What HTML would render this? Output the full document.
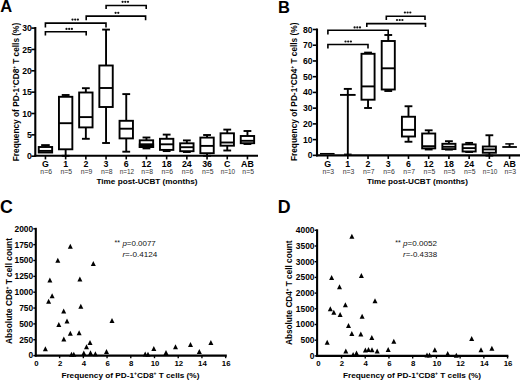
<!DOCTYPE html>
<html><head><meta charset="utf-8"><style>
html,body{margin:0;padding:0;background:#fff;}
body{width:520px;height:380px;overflow:hidden;}
svg{display:block;font-family:"Liberation Sans", sans-serif;}
</style></head><body>
<svg width="520" height="380" viewBox="0 0 520 380">
<rect width="520" height="380" fill="#fff"/>
<line x1="45.45" y1="145.10" x2="45.45" y2="147.00" stroke="#000" stroke-width="1.9"/>
<line x1="41.15" y1="145.10" x2="49.75" y2="145.10" stroke="#000" stroke-width="1.9"/>
<rect x="38.75" y="147.00" width="13.40" height="5.50" fill="#fff" stroke="#000" stroke-width="1.9"/>
<line x1="38.75" y1="150.90" x2="52.15" y2="150.90" stroke="#000" stroke-width="1.9"/>
<line x1="65.65" y1="95.00" x2="65.65" y2="96.80" stroke="#000" stroke-width="1.9"/>
<line x1="61.75" y1="95.00" x2="69.55" y2="95.00" stroke="#000" stroke-width="1.9"/>
<line x1="65.65" y1="149.30" x2="65.65" y2="155.80" stroke="#000" stroke-width="1.9"/>
<line x1="61.75" y1="155.80" x2="69.55" y2="155.80" stroke="#000" stroke-width="1.9"/>
<rect x="58.95" y="96.80" width="13.40" height="52.50" fill="#fff" stroke="#000" stroke-width="1.9"/>
<line x1="58.95" y1="123.20" x2="72.35" y2="123.20" stroke="#000" stroke-width="1.9"/>
<line x1="85.85" y1="88.20" x2="85.85" y2="92.50" stroke="#000" stroke-width="1.9"/>
<line x1="81.95" y1="88.20" x2="89.75" y2="88.20" stroke="#000" stroke-width="1.9"/>
<line x1="85.85" y1="127.40" x2="85.85" y2="138.80" stroke="#000" stroke-width="1.9"/>
<line x1="81.95" y1="138.80" x2="89.75" y2="138.80" stroke="#000" stroke-width="1.9"/>
<rect x="79.15" y="92.50" width="13.40" height="34.90" fill="#fff" stroke="#000" stroke-width="1.9"/>
<line x1="79.15" y1="117.10" x2="92.55" y2="117.10" stroke="#000" stroke-width="1.9"/>
<line x1="106.05" y1="29.60" x2="106.05" y2="65.50" stroke="#000" stroke-width="1.9"/>
<line x1="102.15" y1="29.60" x2="109.95" y2="29.60" stroke="#000" stroke-width="1.9"/>
<line x1="106.05" y1="107.00" x2="106.05" y2="143.00" stroke="#000" stroke-width="1.9"/>
<line x1="102.15" y1="143.00" x2="109.95" y2="143.00" stroke="#000" stroke-width="1.9"/>
<rect x="99.35" y="65.50" width="13.40" height="41.50" fill="#fff" stroke="#000" stroke-width="1.9"/>
<line x1="99.35" y1="88.00" x2="112.75" y2="88.00" stroke="#000" stroke-width="1.9"/>
<line x1="126.25" y1="94.10" x2="126.25" y2="120.80" stroke="#000" stroke-width="1.9"/>
<line x1="122.35" y1="94.10" x2="130.15" y2="94.10" stroke="#000" stroke-width="1.9"/>
<line x1="126.25" y1="138.40" x2="126.25" y2="151.70" stroke="#000" stroke-width="1.9"/>
<line x1="122.35" y1="151.70" x2="130.15" y2="151.70" stroke="#000" stroke-width="1.9"/>
<rect x="119.55" y="120.80" width="13.40" height="17.60" fill="#fff" stroke="#000" stroke-width="1.9"/>
<line x1="119.55" y1="128.70" x2="132.95" y2="128.70" stroke="#000" stroke-width="1.9"/>
<line x1="146.45" y1="137.50" x2="146.45" y2="140.30" stroke="#000" stroke-width="1.9"/>
<line x1="142.55" y1="137.50" x2="150.35" y2="137.50" stroke="#000" stroke-width="1.9"/>
<line x1="146.45" y1="147.00" x2="146.45" y2="148.40" stroke="#000" stroke-width="1.9"/>
<line x1="142.55" y1="148.40" x2="150.35" y2="148.40" stroke="#000" stroke-width="1.9"/>
<rect x="139.75" y="140.30" width="13.40" height="6.70" fill="#fff" stroke="#000" stroke-width="1.9"/>
<line x1="139.75" y1="144.60" x2="153.15" y2="144.60" stroke="#000" stroke-width="1.9"/>
<rect x="138.80" y="143.5" width="15.30" height="4.4" fill="#000"/>
<line x1="166.65" y1="134.60" x2="166.65" y2="138.80" stroke="#000" stroke-width="1.9"/>
<line x1="162.75" y1="134.60" x2="170.55" y2="134.60" stroke="#000" stroke-width="1.9"/>
<line x1="166.65" y1="149.90" x2="166.65" y2="151.10" stroke="#000" stroke-width="1.9"/>
<line x1="162.75" y1="151.10" x2="170.55" y2="151.10" stroke="#000" stroke-width="1.9"/>
<rect x="159.95" y="138.80" width="13.40" height="11.10" fill="#fff" stroke="#000" stroke-width="1.9"/>
<line x1="159.95" y1="144.30" x2="173.35" y2="144.30" stroke="#000" stroke-width="1.9"/>
<line x1="186.85" y1="140.40" x2="186.85" y2="143.30" stroke="#000" stroke-width="1.9"/>
<line x1="182.95" y1="140.40" x2="190.75" y2="140.40" stroke="#000" stroke-width="1.9"/>
<line x1="186.85" y1="151.20" x2="186.85" y2="152.00" stroke="#000" stroke-width="1.9"/>
<line x1="182.95" y1="152.00" x2="190.75" y2="152.00" stroke="#000" stroke-width="1.9"/>
<rect x="180.15" y="143.30" width="13.40" height="7.90" fill="#fff" stroke="#000" stroke-width="1.9"/>
<line x1="180.15" y1="147.20" x2="193.55" y2="147.20" stroke="#000" stroke-width="1.9"/>
<line x1="207.05" y1="135.00" x2="207.05" y2="137.60" stroke="#000" stroke-width="1.9"/>
<line x1="203.15" y1="135.00" x2="210.95" y2="135.00" stroke="#000" stroke-width="1.9"/>
<line x1="207.05" y1="153.20" x2="207.05" y2="155.80" stroke="#000" stroke-width="1.9"/>
<line x1="203.15" y1="155.80" x2="210.95" y2="155.80" stroke="#000" stroke-width="1.9"/>
<rect x="200.35" y="137.60" width="13.40" height="15.60" fill="#fff" stroke="#000" stroke-width="1.9"/>
<line x1="200.35" y1="145.90" x2="213.75" y2="145.90" stroke="#000" stroke-width="1.9"/>
<line x1="227.25" y1="129.60" x2="227.25" y2="133.30" stroke="#000" stroke-width="1.9"/>
<line x1="223.35" y1="129.60" x2="231.15" y2="129.60" stroke="#000" stroke-width="1.9"/>
<line x1="227.25" y1="145.70" x2="227.25" y2="150.50" stroke="#000" stroke-width="1.9"/>
<line x1="223.35" y1="150.50" x2="231.15" y2="150.50" stroke="#000" stroke-width="1.9"/>
<rect x="220.55" y="133.30" width="13.40" height="12.40" fill="#fff" stroke="#000" stroke-width="1.9"/>
<line x1="220.55" y1="142.50" x2="233.95" y2="142.50" stroke="#000" stroke-width="1.9"/>
<line x1="247.45" y1="131.00" x2="247.45" y2="136.00" stroke="#000" stroke-width="1.9"/>
<line x1="243.55" y1="131.00" x2="251.35" y2="131.00" stroke="#000" stroke-width="1.9"/>
<line x1="247.45" y1="143.20" x2="247.45" y2="144.00" stroke="#000" stroke-width="1.9"/>
<line x1="243.55" y1="144.00" x2="251.35" y2="144.00" stroke="#000" stroke-width="1.9"/>
<rect x="240.75" y="136.00" width="13.40" height="7.20" fill="#fff" stroke="#000" stroke-width="1.9"/>
<line x1="240.75" y1="140.80" x2="254.15" y2="140.80" stroke="#000" stroke-width="1.9"/>
<line x1="35.30" y1="27.00" x2="35.30" y2="156.80" stroke="#000" stroke-width="2.1"/>
<line x1="34.30" y1="155.80" x2="258.00" y2="155.80" stroke="#000" stroke-width="2.1"/>
<line x1="31.30" y1="156.20" x2="35.30" y2="156.20" stroke="#000" stroke-width="1.6"/>
<text x="31.70" y="159.25" font-size="8.6" font-weight="bold" text-anchor="end" fill="#000" >0</text>
<line x1="31.30" y1="134.85" x2="35.30" y2="134.85" stroke="#000" stroke-width="1.6"/>
<text x="31.70" y="137.90" font-size="8.6" font-weight="bold" text-anchor="end" fill="#000" >5</text>
<line x1="31.30" y1="113.50" x2="35.30" y2="113.50" stroke="#000" stroke-width="1.6"/>
<text x="31.70" y="116.55" font-size="8.6" font-weight="bold" text-anchor="end" fill="#000" >10</text>
<line x1="31.30" y1="92.15" x2="35.30" y2="92.15" stroke="#000" stroke-width="1.6"/>
<text x="31.70" y="95.20" font-size="8.6" font-weight="bold" text-anchor="end" fill="#000" >15</text>
<line x1="31.30" y1="70.80" x2="35.30" y2="70.80" stroke="#000" stroke-width="1.6"/>
<text x="31.70" y="73.85" font-size="8.6" font-weight="bold" text-anchor="end" fill="#000" >20</text>
<line x1="31.30" y1="49.45" x2="35.30" y2="49.45" stroke="#000" stroke-width="1.6"/>
<text x="31.70" y="52.50" font-size="8.6" font-weight="bold" text-anchor="end" fill="#000" >25</text>
<line x1="31.30" y1="28.10" x2="35.30" y2="28.10" stroke="#000" stroke-width="1.6"/>
<text x="31.70" y="31.15" font-size="8.6" font-weight="bold" text-anchor="end" fill="#000" >30</text>
<line x1="45.45" y1="155.80" x2="45.45" y2="159.40" stroke="#000" stroke-width="1.6"/>
<text x="45.45" y="166.60" font-size="8.8" font-weight="bold" text-anchor="middle" fill="#000" >G</text>
<text x="46.15" y="174.30" font-size="6.6" font-weight="normal" text-anchor="middle" fill="#333" textLength="11.6" lengthAdjust="spacingAndGlyphs" >n=6</text>
<line x1="65.65" y1="155.80" x2="65.65" y2="159.40" stroke="#000" stroke-width="1.6"/>
<text x="65.65" y="166.60" font-size="8.8" font-weight="bold" text-anchor="middle" fill="#000" >1</text>
<text x="66.35" y="174.30" font-size="6.6" font-weight="normal" text-anchor="middle" fill="#333" textLength="11.6" lengthAdjust="spacingAndGlyphs" >n=5</text>
<line x1="85.85" y1="155.80" x2="85.85" y2="159.40" stroke="#000" stroke-width="1.6"/>
<text x="85.85" y="166.60" font-size="8.8" font-weight="bold" text-anchor="middle" fill="#000" >2</text>
<text x="86.55" y="174.30" font-size="6.6" font-weight="normal" text-anchor="middle" fill="#333" textLength="11.6" lengthAdjust="spacingAndGlyphs" >n=9</text>
<line x1="106.05" y1="155.80" x2="106.05" y2="159.40" stroke="#000" stroke-width="1.6"/>
<text x="106.05" y="166.60" font-size="8.8" font-weight="bold" text-anchor="middle" fill="#000" >3</text>
<text x="106.75" y="174.30" font-size="6.6" font-weight="normal" text-anchor="middle" fill="#333" textLength="11.6" lengthAdjust="spacingAndGlyphs" >n=8</text>
<line x1="126.25" y1="155.80" x2="126.25" y2="159.40" stroke="#000" stroke-width="1.6"/>
<text x="126.25" y="166.60" font-size="8.8" font-weight="bold" text-anchor="middle" fill="#000" >6</text>
<text x="126.95" y="174.30" font-size="6.6" font-weight="normal" text-anchor="middle" fill="#333" textLength="14.5" lengthAdjust="spacingAndGlyphs" >n=12</text>
<line x1="146.45" y1="155.80" x2="146.45" y2="159.40" stroke="#000" stroke-width="1.6"/>
<text x="146.45" y="166.60" font-size="8.8" font-weight="bold" text-anchor="middle" fill="#000" >12</text>
<text x="147.15" y="174.30" font-size="6.6" font-weight="normal" text-anchor="middle" fill="#333" textLength="11.6" lengthAdjust="spacingAndGlyphs" >n=8</text>
<line x1="166.65" y1="155.80" x2="166.65" y2="159.40" stroke="#000" stroke-width="1.6"/>
<text x="166.65" y="166.60" font-size="8.8" font-weight="bold" text-anchor="middle" fill="#000" >18</text>
<text x="167.35" y="174.30" font-size="6.6" font-weight="normal" text-anchor="middle" fill="#333" textLength="11.6" lengthAdjust="spacingAndGlyphs" >n=6</text>
<line x1="186.85" y1="155.80" x2="186.85" y2="159.40" stroke="#000" stroke-width="1.6"/>
<text x="186.85" y="166.60" font-size="8.8" font-weight="bold" text-anchor="middle" fill="#000" >24</text>
<text x="187.55" y="174.30" font-size="6.6" font-weight="normal" text-anchor="middle" fill="#333" textLength="11.6" lengthAdjust="spacingAndGlyphs" >n=6</text>
<line x1="207.05" y1="155.80" x2="207.05" y2="159.40" stroke="#000" stroke-width="1.6"/>
<text x="207.05" y="166.60" font-size="8.8" font-weight="bold" text-anchor="middle" fill="#000" >36</text>
<text x="207.75" y="174.30" font-size="6.6" font-weight="normal" text-anchor="middle" fill="#333" textLength="11.6" lengthAdjust="spacingAndGlyphs" >n=5</text>
<line x1="227.25" y1="155.80" x2="227.25" y2="159.40" stroke="#000" stroke-width="1.6"/>
<text x="227.25" y="166.60" font-size="8.8" font-weight="bold" text-anchor="middle" fill="#000" >C</text>
<text x="227.95" y="174.30" font-size="6.6" font-weight="normal" text-anchor="middle" fill="#333" textLength="14.5" lengthAdjust="spacingAndGlyphs" >n=10</text>
<line x1="247.45" y1="155.80" x2="247.45" y2="159.40" stroke="#000" stroke-width="1.6"/>
<text x="247.45" y="166.60" font-size="8.8" font-weight="bold" text-anchor="middle" fill="#000" >AB</text>
<text x="248.15" y="174.30" font-size="6.6" font-weight="normal" text-anchor="middle" fill="#333" textLength="11.6" lengthAdjust="spacingAndGlyphs" >n=5</text>
<text x="147.00" y="184.30" font-size="7.6" font-weight="bold" text-anchor="middle" fill="#000" textLength="101" lengthAdjust="spacingAndGlyphs" >Time post-UCBT (months)</text>
<text transform="translate(18.80,92.00) rotate(-90)" font-size="8.5" font-weight="bold" text-anchor="middle" textLength="138.5" lengthAdjust="spacingAndGlyphs">Frequency of PD-1<tspan font-size="4.6" dy="-2.8">+</tspan><tspan dy="2.8">CD8</tspan><tspan font-size="4.6" dy="-2.8">+</tspan><tspan dy="2.8"> T cells (%)</tspan></text>
<path d="M106.10,9.10 V5.50 H146.20 V9.10" fill="none" stroke="#000" stroke-width="1.6"/>
<circle cx="122.60" cy="1.80" r="1.12" fill="#111"/>
<circle cx="125.30" cy="1.80" r="1.12" fill="#111"/>
<circle cx="128.00" cy="1.80" r="1.12" fill="#111"/>
<path d="M86.20,20.30 V16.10 H145.60 V20.30" fill="none" stroke="#000" stroke-width="1.6"/>
<circle cx="115.60" cy="12.80" r="1.12" fill="#111"/>
<circle cx="118.30" cy="12.80" r="1.12" fill="#111"/>
<path d="M45.40,27.40 V23.10 H106.00 V27.40" fill="none" stroke="#000" stroke-width="1.6"/>
<circle cx="72.50" cy="19.60" r="1.12" fill="#111"/>
<circle cx="75.20" cy="19.60" r="1.12" fill="#111"/>
<circle cx="77.90" cy="19.60" r="1.12" fill="#111"/>
<path d="M45.40,35.50 V31.80 H86.20 V35.50" fill="none" stroke="#000" stroke-width="1.6"/>
<circle cx="66.50" cy="28.90" r="1.12" fill="#111"/>
<circle cx="69.20" cy="28.90" r="1.12" fill="#111"/>
<circle cx="71.90" cy="28.90" r="1.12" fill="#111"/>
<text x="0.20" y="11.80" font-size="16.5" font-weight="bold" text-anchor="start" fill="#000" >A</text>
<line x1="320.00" y1="153.70" x2="334.60" y2="153.70" stroke="#000" stroke-width="1.5"/>
<line x1="347.82" y1="88.90" x2="347.82" y2="155.35" stroke="#000" stroke-width="1.9"/>
<line x1="343.82" y1="88.90" x2="351.82" y2="88.90" stroke="#000" stroke-width="1.9"/>
<line x1="340.02" y1="94.90" x2="355.62" y2="94.90" stroke="#000" stroke-width="1.9"/>
<line x1="344.02" y1="154.20" x2="351.62" y2="154.20" stroke="#000" stroke-width="1.2"/>
<line x1="368.04" y1="52.60" x2="368.04" y2="53.80" stroke="#000" stroke-width="1.9"/>
<line x1="364.14" y1="52.60" x2="371.94" y2="52.60" stroke="#000" stroke-width="1.9"/>
<line x1="368.04" y1="99.70" x2="368.04" y2="108.00" stroke="#000" stroke-width="1.9"/>
<line x1="364.14" y1="108.00" x2="371.94" y2="108.00" stroke="#000" stroke-width="1.9"/>
<rect x="361.49" y="53.80" width="13.10" height="45.90" fill="#fff" stroke="#000" stroke-width="1.9"/>
<line x1="361.49" y1="86.40" x2="374.59" y2="86.40" stroke="#000" stroke-width="1.9"/>
<line x1="388.26" y1="35.00" x2="388.26" y2="41.00" stroke="#000" stroke-width="1.9"/>
<line x1="384.36" y1="35.00" x2="392.16" y2="35.00" stroke="#000" stroke-width="1.9"/>
<line x1="388.26" y1="89.50" x2="388.26" y2="91.00" stroke="#000" stroke-width="1.9"/>
<line x1="384.36" y1="91.00" x2="392.16" y2="91.00" stroke="#000" stroke-width="1.9"/>
<rect x="381.71" y="41.00" width="13.10" height="48.50" fill="#fff" stroke="#000" stroke-width="1.9"/>
<line x1="381.71" y1="68.30" x2="394.81" y2="68.30" stroke="#000" stroke-width="1.9"/>
<line x1="408.48" y1="106.25" x2="408.48" y2="116.75" stroke="#000" stroke-width="1.9"/>
<line x1="404.58" y1="106.25" x2="412.38" y2="106.25" stroke="#000" stroke-width="1.9"/>
<line x1="408.48" y1="136.50" x2="408.48" y2="141.75" stroke="#000" stroke-width="1.9"/>
<line x1="404.58" y1="141.75" x2="412.38" y2="141.75" stroke="#000" stroke-width="1.9"/>
<rect x="401.93" y="116.75" width="13.10" height="19.75" fill="#fff" stroke="#000" stroke-width="1.9"/>
<line x1="401.93" y1="129.80" x2="415.03" y2="129.80" stroke="#000" stroke-width="1.9"/>
<line x1="428.70" y1="130.30" x2="428.70" y2="133.50" stroke="#000" stroke-width="1.9"/>
<line x1="424.80" y1="130.30" x2="432.60" y2="130.30" stroke="#000" stroke-width="1.9"/>
<line x1="428.70" y1="148.40" x2="428.70" y2="149.50" stroke="#000" stroke-width="1.9"/>
<line x1="424.80" y1="149.50" x2="432.60" y2="149.50" stroke="#000" stroke-width="1.9"/>
<rect x="422.15" y="133.50" width="13.10" height="14.90" fill="#fff" stroke="#000" stroke-width="1.9"/>
<line x1="422.15" y1="146.20" x2="435.25" y2="146.20" stroke="#000" stroke-width="1.9"/>
<line x1="448.92" y1="141.20" x2="448.92" y2="143.80" stroke="#000" stroke-width="1.9"/>
<line x1="445.02" y1="141.20" x2="452.82" y2="141.20" stroke="#000" stroke-width="1.9"/>
<line x1="448.92" y1="149.10" x2="448.92" y2="149.60" stroke="#000" stroke-width="1.9"/>
<line x1="445.02" y1="149.60" x2="452.82" y2="149.60" stroke="#000" stroke-width="1.9"/>
<rect x="442.37" y="143.80" width="13.10" height="5.30" fill="#fff" stroke="#000" stroke-width="1.9"/>
<line x1="442.37" y1="146.80" x2="455.47" y2="146.80" stroke="#000" stroke-width="1.9"/>
<line x1="469.14" y1="142.90" x2="469.14" y2="144.40" stroke="#000" stroke-width="1.9"/>
<line x1="465.24" y1="142.90" x2="473.04" y2="142.90" stroke="#000" stroke-width="1.9"/>
<line x1="469.14" y1="151.50" x2="469.14" y2="152.00" stroke="#000" stroke-width="1.9"/>
<line x1="465.24" y1="152.00" x2="473.04" y2="152.00" stroke="#000" stroke-width="1.9"/>
<rect x="462.59" y="144.40" width="13.10" height="7.10" fill="#fff" stroke="#000" stroke-width="1.9"/>
<line x1="462.59" y1="148.10" x2="475.69" y2="148.10" stroke="#000" stroke-width="1.9"/>
<line x1="489.36" y1="135.25" x2="489.36" y2="146.50" stroke="#000" stroke-width="1.9"/>
<line x1="485.46" y1="135.25" x2="493.26" y2="135.25" stroke="#000" stroke-width="1.9"/>
<line x1="489.36" y1="152.75" x2="489.36" y2="155.60" stroke="#000" stroke-width="1.9"/>
<line x1="485.46" y1="155.60" x2="493.26" y2="155.60" stroke="#000" stroke-width="1.9"/>
<rect x="482.81" y="146.50" width="13.10" height="6.25" fill="#fff" stroke="#000" stroke-width="1.9"/>
<line x1="482.81" y1="149.40" x2="495.91" y2="149.40" stroke="#000" stroke-width="1.9"/>
<line x1="509.58" y1="143.90" x2="509.58" y2="147.00" stroke="#000" stroke-width="1.9"/>
<line x1="505.28" y1="143.90" x2="513.88" y2="143.90" stroke="#000" stroke-width="1.5"/>
<line x1="502.28" y1="147.00" x2="516.88" y2="147.00" stroke="#000" stroke-width="1.8"/>
<line x1="317.00" y1="28.50" x2="317.00" y2="156.35" stroke="#000" stroke-width="2.1"/>
<line x1="316.00" y1="155.35" x2="520.00" y2="155.35" stroke="#000" stroke-width="2.1"/>
<line x1="312.80" y1="155.35" x2="317.00" y2="155.35" stroke="#000" stroke-width="1.6"/>
<text x="312.60" y="158.40" font-size="8.6" font-weight="bold" text-anchor="end" fill="#000" >0</text>
<line x1="312.80" y1="139.62" x2="317.00" y2="139.62" stroke="#000" stroke-width="1.6"/>
<text x="312.60" y="142.67" font-size="8.6" font-weight="bold" text-anchor="end" fill="#000" >10</text>
<line x1="312.80" y1="123.89" x2="317.00" y2="123.89" stroke="#000" stroke-width="1.6"/>
<text x="312.60" y="126.94" font-size="8.6" font-weight="bold" text-anchor="end" fill="#000" >20</text>
<line x1="312.80" y1="108.16" x2="317.00" y2="108.16" stroke="#000" stroke-width="1.6"/>
<text x="312.60" y="111.21" font-size="8.6" font-weight="bold" text-anchor="end" fill="#000" >30</text>
<line x1="312.80" y1="92.42" x2="317.00" y2="92.42" stroke="#000" stroke-width="1.6"/>
<text x="312.60" y="95.47" font-size="8.6" font-weight="bold" text-anchor="end" fill="#000" >40</text>
<line x1="312.80" y1="76.69" x2="317.00" y2="76.69" stroke="#000" stroke-width="1.6"/>
<text x="312.60" y="79.74" font-size="8.6" font-weight="bold" text-anchor="end" fill="#000" >50</text>
<line x1="312.80" y1="60.96" x2="317.00" y2="60.96" stroke="#000" stroke-width="1.6"/>
<text x="312.60" y="64.01" font-size="8.6" font-weight="bold" text-anchor="end" fill="#000" >60</text>
<line x1="312.80" y1="45.23" x2="317.00" y2="45.23" stroke="#000" stroke-width="1.6"/>
<text x="312.60" y="48.28" font-size="8.6" font-weight="bold" text-anchor="end" fill="#000" >70</text>
<line x1="312.80" y1="29.50" x2="317.00" y2="29.50" stroke="#000" stroke-width="1.6"/>
<text x="312.60" y="32.55" font-size="8.6" font-weight="bold" text-anchor="end" fill="#000" >80</text>
<line x1="327.60" y1="155.35" x2="327.60" y2="158.95" stroke="#000" stroke-width="1.6"/>
<text x="327.60" y="166.60" font-size="8.8" font-weight="bold" text-anchor="middle" fill="#000" >G</text>
<text x="328.30" y="174.30" font-size="6.6" font-weight="normal" text-anchor="middle" fill="#333" textLength="11.6" lengthAdjust="spacingAndGlyphs" >n=3</text>
<line x1="347.82" y1="155.35" x2="347.82" y2="158.95" stroke="#000" stroke-width="1.6"/>
<text x="347.82" y="166.60" font-size="8.8" font-weight="bold" text-anchor="middle" fill="#000" >1</text>
<text x="348.52" y="174.30" font-size="6.6" font-weight="normal" text-anchor="middle" fill="#333" textLength="11.6" lengthAdjust="spacingAndGlyphs" >n=3</text>
<line x1="368.04" y1="155.35" x2="368.04" y2="158.95" stroke="#000" stroke-width="1.6"/>
<text x="368.04" y="166.60" font-size="8.8" font-weight="bold" text-anchor="middle" fill="#000" >2</text>
<text x="368.74" y="174.30" font-size="6.6" font-weight="normal" text-anchor="middle" fill="#333" textLength="11.6" lengthAdjust="spacingAndGlyphs" >n=7</text>
<line x1="388.26" y1="155.35" x2="388.26" y2="158.95" stroke="#000" stroke-width="1.6"/>
<text x="388.26" y="166.60" font-size="8.8" font-weight="bold" text-anchor="middle" fill="#000" >3</text>
<text x="388.96" y="174.30" font-size="6.6" font-weight="normal" text-anchor="middle" fill="#333" textLength="11.6" lengthAdjust="spacingAndGlyphs" >n=6</text>
<line x1="408.48" y1="155.35" x2="408.48" y2="158.95" stroke="#000" stroke-width="1.6"/>
<text x="408.48" y="166.60" font-size="8.8" font-weight="bold" text-anchor="middle" fill="#000" >6</text>
<text x="409.18" y="174.30" font-size="6.6" font-weight="normal" text-anchor="middle" fill="#333" textLength="11.6" lengthAdjust="spacingAndGlyphs" >n=7</text>
<line x1="428.70" y1="155.35" x2="428.70" y2="158.95" stroke="#000" stroke-width="1.6"/>
<text x="428.70" y="166.60" font-size="8.8" font-weight="bold" text-anchor="middle" fill="#000" >12</text>
<text x="429.40" y="174.30" font-size="6.6" font-weight="normal" text-anchor="middle" fill="#333" textLength="11.6" lengthAdjust="spacingAndGlyphs" >n=5</text>
<line x1="448.92" y1="155.35" x2="448.92" y2="158.95" stroke="#000" stroke-width="1.6"/>
<text x="448.92" y="166.60" font-size="8.8" font-weight="bold" text-anchor="middle" fill="#000" >18</text>
<text x="449.62" y="174.30" font-size="6.6" font-weight="normal" text-anchor="middle" fill="#333" textLength="11.6" lengthAdjust="spacingAndGlyphs" >n=5</text>
<line x1="469.14" y1="155.35" x2="469.14" y2="158.95" stroke="#000" stroke-width="1.6"/>
<text x="469.14" y="166.60" font-size="8.8" font-weight="bold" text-anchor="middle" fill="#000" >24</text>
<text x="469.84" y="174.30" font-size="6.6" font-weight="normal" text-anchor="middle" fill="#333" textLength="11.6" lengthAdjust="spacingAndGlyphs" >n=5</text>
<line x1="489.36" y1="155.35" x2="489.36" y2="158.95" stroke="#000" stroke-width="1.6"/>
<text x="489.36" y="166.60" font-size="8.8" font-weight="bold" text-anchor="middle" fill="#000" >C</text>
<text x="490.06" y="174.30" font-size="6.6" font-weight="normal" text-anchor="middle" fill="#333" textLength="14.5" lengthAdjust="spacingAndGlyphs" >n=10</text>
<line x1="509.58" y1="155.35" x2="509.58" y2="158.95" stroke="#000" stroke-width="1.6"/>
<text x="509.58" y="166.60" font-size="8.8" font-weight="bold" text-anchor="middle" fill="#000" >AB</text>
<text x="510.28" y="174.30" font-size="6.6" font-weight="normal" text-anchor="middle" fill="#333" textLength="11.6" lengthAdjust="spacingAndGlyphs" >n=3</text>
<text x="417.40" y="184.30" font-size="7.6" font-weight="bold" text-anchor="middle" fill="#000" textLength="101" lengthAdjust="spacingAndGlyphs" >Time post-UCBT (months)</text>
<text transform="translate(296.60,91.80) rotate(-90)" font-size="8.5" font-weight="bold" text-anchor="middle" textLength="138.5" lengthAdjust="spacingAndGlyphs">Frequency of PD-1<tspan font-size="4.6" dy="-2.8">+</tspan><tspan dy="2.8">CD4</tspan><tspan font-size="4.6" dy="-2.8">+</tspan><tspan dy="2.8"> T cells (%)</tspan></text>
<path d="M386.30,20.00 V16.20 H425.00 V20.00" fill="none" stroke="#000" stroke-width="1.6"/>
<circle cx="404.90" cy="12.50" r="1.12" fill="#111"/>
<circle cx="407.60" cy="12.50" r="1.12" fill="#111"/>
<circle cx="410.30" cy="12.50" r="1.12" fill="#111"/>
<path d="M366.80,27.00 V23.60 H425.50 V27.00" fill="none" stroke="#000" stroke-width="1.6"/>
<circle cx="397.00" cy="20.00" r="1.12" fill="#111"/>
<circle cx="399.70" cy="20.00" r="1.12" fill="#111"/>
<circle cx="402.40" cy="20.00" r="1.12" fill="#111"/>
<path d="M327.90,34.40 V30.30 H388.20 V35.60" fill="none" stroke="#000" stroke-width="1.6"/>
<circle cx="354.60" cy="27.40" r="1.12" fill="#111"/>
<circle cx="357.30" cy="27.40" r="1.12" fill="#111"/>
<circle cx="360.00" cy="27.40" r="1.12" fill="#111"/>
<path d="M327.90,48.50 V44.50 H368.00 V48.50" fill="none" stroke="#000" stroke-width="1.6"/>
<circle cx="345.50" cy="41.50" r="1.12" fill="#111"/>
<circle cx="348.20" cy="41.50" r="1.12" fill="#111"/>
<circle cx="350.90" cy="41.50" r="1.12" fill="#111"/>
<text x="278.00" y="13.10" font-size="16.5" font-weight="bold" text-anchor="start" fill="#000" >B</text>
<line x1="35.80" y1="227.80" x2="35.80" y2="356.60" stroke="#000" stroke-width="2.1"/>
<line x1="34.80" y1="355.60" x2="226.80" y2="355.60" stroke="#000" stroke-width="2.1"/>
<line x1="33.30" y1="355.60" x2="35.80" y2="355.60" stroke="#000" stroke-width="1.4"/>
<text x="33.20" y="358.45" font-size="8.4" font-weight="bold" text-anchor="end" fill="#000" >0</text>
<line x1="33.30" y1="339.75" x2="35.80" y2="339.75" stroke="#000" stroke-width="1.4"/>
<text x="33.20" y="342.60" font-size="8.4" font-weight="bold" text-anchor="end" fill="#000" >250</text>
<line x1="33.30" y1="323.90" x2="35.80" y2="323.90" stroke="#000" stroke-width="1.4"/>
<text x="33.20" y="326.75" font-size="8.4" font-weight="bold" text-anchor="end" fill="#000" >500</text>
<line x1="33.30" y1="308.05" x2="35.80" y2="308.05" stroke="#000" stroke-width="1.4"/>
<text x="33.20" y="310.90" font-size="8.4" font-weight="bold" text-anchor="end" fill="#000" >750</text>
<line x1="33.30" y1="292.20" x2="35.80" y2="292.20" stroke="#000" stroke-width="1.4"/>
<text x="33.20" y="295.05" font-size="8.4" font-weight="bold" text-anchor="end" fill="#000" >1000</text>
<line x1="33.30" y1="276.35" x2="35.80" y2="276.35" stroke="#000" stroke-width="1.4"/>
<text x="33.20" y="279.20" font-size="8.4" font-weight="bold" text-anchor="end" fill="#000" >1250</text>
<line x1="33.30" y1="260.50" x2="35.80" y2="260.50" stroke="#000" stroke-width="1.4"/>
<text x="33.20" y="263.35" font-size="8.4" font-weight="bold" text-anchor="end" fill="#000" >1500</text>
<line x1="33.30" y1="244.65" x2="35.80" y2="244.65" stroke="#000" stroke-width="1.4"/>
<text x="33.20" y="247.50" font-size="8.4" font-weight="bold" text-anchor="end" fill="#000" >1750</text>
<line x1="33.30" y1="228.80" x2="35.80" y2="228.80" stroke="#000" stroke-width="1.4"/>
<text x="33.20" y="231.65" font-size="8.4" font-weight="bold" text-anchor="end" fill="#000" >2000</text>
<text x="36.40" y="365.90" font-size="7.8" font-weight="bold" text-anchor="middle" fill="#000" >0</text>
<line x1="59.62" y1="355.60" x2="59.62" y2="358.20" stroke="#000" stroke-width="1.4"/>
<text x="60.12" y="365.90" font-size="7.8" font-weight="bold" text-anchor="middle" fill="#000" >2</text>
<line x1="83.34" y1="355.60" x2="83.34" y2="358.20" stroke="#000" stroke-width="1.4"/>
<text x="83.84" y="365.90" font-size="7.8" font-weight="bold" text-anchor="middle" fill="#000" >4</text>
<line x1="107.06" y1="355.60" x2="107.06" y2="358.20" stroke="#000" stroke-width="1.4"/>
<text x="107.56" y="365.90" font-size="7.8" font-weight="bold" text-anchor="middle" fill="#000" >6</text>
<line x1="130.78" y1="355.60" x2="130.78" y2="358.20" stroke="#000" stroke-width="1.4"/>
<text x="131.28" y="365.90" font-size="7.8" font-weight="bold" text-anchor="middle" fill="#000" >8</text>
<line x1="154.50" y1="355.60" x2="154.50" y2="358.20" stroke="#000" stroke-width="1.4"/>
<text x="155.00" y="365.90" font-size="7.8" font-weight="bold" text-anchor="middle" fill="#000" >10</text>
<line x1="178.22" y1="355.60" x2="178.22" y2="358.20" stroke="#000" stroke-width="1.4"/>
<text x="178.72" y="365.90" font-size="7.8" font-weight="bold" text-anchor="middle" fill="#000" >12</text>
<line x1="201.94" y1="355.60" x2="201.94" y2="358.20" stroke="#000" stroke-width="1.4"/>
<text x="202.44" y="365.90" font-size="7.8" font-weight="bold" text-anchor="middle" fill="#000" >14</text>
<line x1="225.66" y1="355.60" x2="225.66" y2="358.20" stroke="#000" stroke-width="1.4"/>
<text x="226.16" y="365.90" font-size="7.8" font-weight="bold" text-anchor="middle" fill="#000" >16</text>
<text x="130.40" y="377.60" font-size="7.6" font-weight="bold" text-anchor="middle" fill="#000" textLength="138" lengthAdjust="spacingAndGlyphs" >Frequency of PD-1<tspan font-size="4.6" dy="-2.8">+</tspan><tspan dy="2.8">CD8</tspan><tspan font-size="4.6" dy="-2.8">+</tspan><tspan dy="2.8"> T cells (%)</tspan></text>
<text transform="translate(11.60,291.00) rotate(-90)" font-size="8.3" font-weight="bold" text-anchor="middle" textLength="106" lengthAdjust="spacingAndGlyphs">Absolute CD8<tspan font-size="4.6" dy="-2.8">+</tspan><tspan dy="2.8"> T cell count</tspan></text>
<path d="M70.30,243.70 L72.80,248.70 L67.80,248.70Z" fill="#000"/>
<path d="M57.80,257.80 L60.30,262.80 L55.30,262.80Z" fill="#000"/>
<path d="M93.30,261.10 L95.80,266.10 L90.80,266.10Z" fill="#000"/>
<path d="M49.90,277.50 L52.40,282.50 L47.40,282.50Z" fill="#000"/>
<path d="M79.90,276.50 L82.40,281.50 L77.40,281.50Z" fill="#000"/>
<path d="M52.10,293.30 L54.60,298.30 L49.60,298.30Z" fill="#000"/>
<path d="M48.60,298.80 L51.10,303.80 L46.10,303.80Z" fill="#000"/>
<path d="M80.80,303.80 L83.30,308.80 L78.30,308.80Z" fill="#000"/>
<path d="M63.70,308.50 L66.20,313.50 L61.20,313.50Z" fill="#000"/>
<path d="M67.00,318.60 L69.50,323.60 L64.50,323.60Z" fill="#000"/>
<path d="M58.80,321.90 L61.30,326.90 L56.30,326.90Z" fill="#000"/>
<path d="M70.30,330.80 L72.80,335.80 L67.80,335.80Z" fill="#000"/>
<path d="M79.10,330.20 L81.60,335.20 L76.60,335.20Z" fill="#000"/>
<path d="M63.80,336.60 L66.30,341.60 L61.30,341.60Z" fill="#000"/>
<path d="M45.40,346.20 L47.90,351.20 L42.90,351.20Z" fill="#000"/>
<path d="M90.00,340.00 L92.50,345.00 L87.50,345.00Z" fill="#000"/>
<path d="M86.50,344.30 L89.00,349.30 L84.00,349.30Z" fill="#000"/>
<path d="M106.50,348.90 L109.00,353.90 L104.00,353.90Z" fill="#000"/>
<path d="M71.50,351.70 L74.00,356.70 L69.00,356.70Z" fill="#000"/>
<path d="M73.80,351.70 L76.30,356.70 L71.30,356.70Z" fill="#000"/>
<path d="M83.80,350.50 L86.30,355.50 L81.30,355.50Z" fill="#000"/>
<path d="M90.50,350.20 L93.00,355.20 L88.00,355.20Z" fill="#000"/>
<path d="M95.40,351.20 L97.90,356.20 L92.90,356.20Z" fill="#000"/>
<path d="M112.00,317.90 L114.50,322.90 L109.50,322.90Z" fill="#000"/>
<path d="M153.80,345.90 L156.30,350.90 L151.30,350.90Z" fill="#000"/>
<path d="M166.00,349.90 L168.50,354.90 L163.50,354.90Z" fill="#000"/>
<path d="M175.50,344.20 L178.00,349.20 L173.00,349.20Z" fill="#000"/>
<path d="M190.50,342.10 L193.00,347.10 L188.00,347.10Z" fill="#000"/>
<path d="M199.30,349.00 L201.80,354.00 L196.80,354.00Z" fill="#000"/>
<path d="M210.90,339.90 L213.40,344.90 L208.40,344.90Z" fill="#000"/>
<path d="M145.20,351.60 L147.70,356.60 L142.70,356.60Z" fill="#000"/>
<path d="M148.00,351.80 L150.50,356.80 L145.50,356.80Z" fill="#000"/>
<text x="0.00" y="212.90" font-size="17.8" font-weight="bold" text-anchor="start" fill="#000" >C</text>
<text x="114.60" y="245.10" font-size="7" fill="#111">**</text>
<text x="122.40" y="246.40" font-size="7.4" fill="#111" textLength="33.4" lengthAdjust="spacingAndGlyphs"><tspan font-style="italic">p</tspan>=0.0077</text>
<text x="122.40" y="256.70" font-size="7.4" fill="#111" textLength="35.0" lengthAdjust="spacingAndGlyphs"><tspan font-style="italic">r</tspan>=-0.4124</text>
<line x1="317.10" y1="229.30" x2="317.10" y2="356.90" stroke="#000" stroke-width="2.1"/>
<line x1="316.10" y1="355.90" x2="508.40" y2="355.90" stroke="#000" stroke-width="2.1"/>
<line x1="314.60" y1="355.90" x2="317.10" y2="355.90" stroke="#000" stroke-width="1.4"/>
<text x="314.50" y="358.75" font-size="8.4" font-weight="bold" text-anchor="end" fill="#000" >0</text>
<line x1="314.60" y1="340.20" x2="317.10" y2="340.20" stroke="#000" stroke-width="1.4"/>
<text x="314.50" y="343.05" font-size="8.4" font-weight="bold" text-anchor="end" fill="#000" >500</text>
<line x1="314.60" y1="324.50" x2="317.10" y2="324.50" stroke="#000" stroke-width="1.4"/>
<text x="314.50" y="327.35" font-size="8.4" font-weight="bold" text-anchor="end" fill="#000" >1000</text>
<line x1="314.60" y1="308.80" x2="317.10" y2="308.80" stroke="#000" stroke-width="1.4"/>
<text x="314.50" y="311.65" font-size="8.4" font-weight="bold" text-anchor="end" fill="#000" >1500</text>
<line x1="314.60" y1="293.10" x2="317.10" y2="293.10" stroke="#000" stroke-width="1.4"/>
<text x="314.50" y="295.95" font-size="8.4" font-weight="bold" text-anchor="end" fill="#000" >2000</text>
<line x1="314.60" y1="277.40" x2="317.10" y2="277.40" stroke="#000" stroke-width="1.4"/>
<text x="314.50" y="280.25" font-size="8.4" font-weight="bold" text-anchor="end" fill="#000" >2500</text>
<line x1="314.60" y1="261.70" x2="317.10" y2="261.70" stroke="#000" stroke-width="1.4"/>
<text x="314.50" y="264.55" font-size="8.4" font-weight="bold" text-anchor="end" fill="#000" >3000</text>
<line x1="314.60" y1="246.00" x2="317.10" y2="246.00" stroke="#000" stroke-width="1.4"/>
<text x="314.50" y="248.85" font-size="8.4" font-weight="bold" text-anchor="end" fill="#000" >3500</text>
<line x1="314.60" y1="230.30" x2="317.10" y2="230.30" stroke="#000" stroke-width="1.4"/>
<text x="314.50" y="233.15" font-size="8.4" font-weight="bold" text-anchor="end" fill="#000" >4000</text>
<text x="318.30" y="365.90" font-size="7.8" font-weight="bold" text-anchor="middle" fill="#000" >0</text>
<line x1="341.52" y1="355.90" x2="341.52" y2="358.50" stroke="#000" stroke-width="1.4"/>
<text x="342.02" y="365.90" font-size="7.8" font-weight="bold" text-anchor="middle" fill="#000" >2</text>
<line x1="365.24" y1="355.90" x2="365.24" y2="358.50" stroke="#000" stroke-width="1.4"/>
<text x="365.74" y="365.90" font-size="7.8" font-weight="bold" text-anchor="middle" fill="#000" >4</text>
<line x1="388.96" y1="355.90" x2="388.96" y2="358.50" stroke="#000" stroke-width="1.4"/>
<text x="389.46" y="365.90" font-size="7.8" font-weight="bold" text-anchor="middle" fill="#000" >6</text>
<line x1="412.68" y1="355.90" x2="412.68" y2="358.50" stroke="#000" stroke-width="1.4"/>
<text x="413.18" y="365.90" font-size="7.8" font-weight="bold" text-anchor="middle" fill="#000" >8</text>
<line x1="436.40" y1="355.90" x2="436.40" y2="358.50" stroke="#000" stroke-width="1.4"/>
<text x="436.90" y="365.90" font-size="7.8" font-weight="bold" text-anchor="middle" fill="#000" >10</text>
<line x1="460.12" y1="355.90" x2="460.12" y2="358.50" stroke="#000" stroke-width="1.4"/>
<text x="460.62" y="365.90" font-size="7.8" font-weight="bold" text-anchor="middle" fill="#000" >12</text>
<line x1="483.84" y1="355.90" x2="483.84" y2="358.50" stroke="#000" stroke-width="1.4"/>
<text x="484.34" y="365.90" font-size="7.8" font-weight="bold" text-anchor="middle" fill="#000" >14</text>
<line x1="507.56" y1="355.90" x2="507.56" y2="358.50" stroke="#000" stroke-width="1.4"/>
<text x="508.06" y="365.90" font-size="7.8" font-weight="bold" text-anchor="middle" fill="#000" >16</text>
<text x="412.00" y="377.60" font-size="7.6" font-weight="bold" text-anchor="middle" fill="#000" textLength="138" lengthAdjust="spacingAndGlyphs" >Frequency of PD-1<tspan font-size="4.6" dy="-2.8">+</tspan><tspan dy="2.8">CD8</tspan><tspan font-size="4.6" dy="-2.8">+</tspan><tspan dy="2.8"> T cells (%)</tspan></text>
<text transform="translate(291.90,292.80) rotate(-90)" font-size="8.3" font-weight="bold" text-anchor="middle" textLength="104.5" lengthAdjust="spacingAndGlyphs">Absolute CD4<tspan font-size="4.6" dy="-2.8">+</tspan><tspan dy="2.8"> T cell count</tspan></text>
<path d="M351.90,233.70 L354.40,238.70 L349.40,238.70Z" fill="#000"/>
<path d="M331.60,275.00 L334.10,280.00 L329.10,280.00Z" fill="#000"/>
<path d="M361.40,272.90 L363.90,277.90 L358.90,277.90Z" fill="#000"/>
<path d="M339.50,284.20 L342.00,289.20 L337.00,289.20Z" fill="#000"/>
<path d="M375.00,298.30 L377.50,303.30 L372.50,303.30Z" fill="#000"/>
<path d="M345.40,302.30 L347.90,307.30 L342.90,307.30Z" fill="#000"/>
<path d="M330.30,306.20 L332.80,311.20 L327.80,311.20Z" fill="#000"/>
<path d="M333.80,309.80 L336.30,314.80 L331.30,314.80Z" fill="#000"/>
<path d="M340.10,312.10 L342.60,317.10 L337.60,317.10Z" fill="#000"/>
<path d="M362.10,313.70 L364.60,318.70 L359.60,318.70Z" fill="#000"/>
<path d="M348.50,323.10 L351.00,328.10 L346.00,328.10Z" fill="#000"/>
<path d="M351.80,331.10 L354.30,336.10 L349.30,336.10Z" fill="#000"/>
<path d="M360.80,331.60 L363.30,336.60 L358.30,336.60Z" fill="#000"/>
<path d="M371.80,335.10 L374.30,340.10 L369.30,340.10Z" fill="#000"/>
<path d="M327.20,339.70 L329.70,344.70 L324.70,344.70Z" fill="#000"/>
<path d="M393.80,338.80 L396.30,343.80 L391.30,343.80Z" fill="#000"/>
<path d="M345.80,348.50 L348.30,353.50 L343.30,353.50Z" fill="#000"/>
<path d="M353.10,352.00 L355.60,357.00 L350.60,357.00Z" fill="#000"/>
<path d="M356.50,350.50 L359.00,355.50 L354.00,355.50Z" fill="#000"/>
<path d="M365.40,347.40 L367.90,352.40 L362.90,352.40Z" fill="#000"/>
<path d="M368.50,346.90 L371.00,351.90 L366.00,351.90Z" fill="#000"/>
<path d="M372.00,347.20 L374.50,352.20 L369.50,352.20Z" fill="#000"/>
<path d="M377.20,348.50 L379.70,353.50 L374.70,353.50Z" fill="#000"/>
<path d="M388.20,346.90 L390.70,351.90 L385.70,351.90Z" fill="#000"/>
<path d="M434.80,347.20 L437.30,352.20 L432.30,352.20Z" fill="#000"/>
<path d="M447.70,350.90 L450.20,355.90 L445.20,355.90Z" fill="#000"/>
<path d="M471.70,336.10 L474.20,341.10 L469.20,341.10Z" fill="#000"/>
<path d="M481.00,347.20 L483.50,352.20 L478.50,352.20Z" fill="#000"/>
<path d="M491.90,345.70 L494.40,350.70 L489.40,350.70Z" fill="#000"/>
<path d="M427.00,352.40 L429.50,357.40 L424.50,357.40Z" fill="#000"/>
<path d="M429.50,352.40 L432.00,357.40 L427.00,357.40Z" fill="#000"/>
<path d="M456.30,352.70 L458.80,357.70 L453.80,357.70Z" fill="#000"/>
<text x="277.80" y="213.10" font-size="17.8" font-weight="bold" text-anchor="start" fill="#000" >D</text>
<text x="395.20" y="244.90" font-size="7" fill="#111">**</text>
<text x="403.00" y="246.20" font-size="7.4" fill="#111" textLength="34.0" lengthAdjust="spacingAndGlyphs"><tspan font-style="italic">p</tspan>=0.0052</text>
<text x="403.00" y="256.50" font-size="7.4" fill="#111" textLength="34.2" lengthAdjust="spacingAndGlyphs"><tspan font-style="italic">r</tspan>=-0.4338</text>
</svg>
</body></html>
